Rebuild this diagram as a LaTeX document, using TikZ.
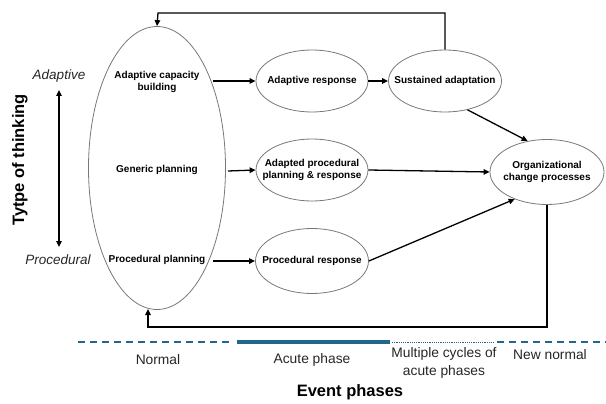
\documentclass[tikz,border=0pt]{standalone}
\usepackage{fontspec}
\setmainfont{Liberation Sans}
\usetikzlibrary{arrows.meta,shapes.geometric}
\definecolor{phase}{RGB}{34,104,140}
\definecolor{rim}{RGB}{120,120,120}
\begin{document}
\begin{tikzpicture}[x=1pt,y=-1pt,
  oval/.style={draw=rim,line width=0.8pt,ellipse,inner sep=0pt},
  lbl/.style={font=\bfseries\fontsize{10}{12}\selectfont,align=center},
  flow/.style={line width=1.3pt,-{Triangle[length=6pt,width=5.5pt]}},
  phaseline/.style={draw=phase,line width=1.6pt},
  phasetxt/.style={font=\fontsize{13.8}{17.5}\selectfont,align=center,text=black!85}]
\useasboundingbox (0,0) rectangle (606,404);

% planning ellipse and its three levels
\node[oval,minimum width=137pt,minimum height=283pt] (plan) at (157,168) {};
\node[lbl] (acb) at (157,82) {Adaptive capacity\\building};
\node[lbl] (gp) at (157,170) {Generic planning};
\node[lbl] (pp) at (157,260) {Procedural planning};

% responses
\node[oval,minimum width=112pt,minimum height=62pt] (ar) at (312,81) {};
\node[lbl] at (ar) {Adaptive response};
\node[oval,minimum width=113pt,minimum height=62pt] (sa) at (445,81) {};
\node[lbl] at (sa) {Sustained adaptation};
\node[oval,minimum width=112pt,minimum height=62pt] (apr) at (312,170) {};
\node[lbl] at (apr) {Adapted procedural\\planning \& response};
\node[oval,minimum width=113pt,minimum height=65pt] (pr) at (312,261) {};
\node[lbl] at (pr) {Procedural response};
\node[oval,minimum width=114pt,minimum height=65pt] (org) at (547,172) {};
\node[lbl] at (org) {Organizational\\change processes};

% forward links
\coordinate (acbE) at (213,81);
\coordinate (gpE) at (228,171);
\coordinate (ppE) at (213,261);
\draw[flow] (acbE) -- (ar.west);
\draw[flow] (gpE) -- (apr.west);
\draw[flow] (ppE) -- (pr.west);
\draw[flow] (ar.east) -- (sa.west);
\draw[flow] (sa.-52) -- (org.122);
\draw[flow] (apr.east) -- (org.west);
\draw[flow] (pr.east) -- (org.-140);

% feedback loops
\draw[flow] (sa.north) -- (445,13) -- (158,13) -- (plan.north);
\coordinate (planB) at (148,309);
\draw[flow] (org.south) -- (547,327) -- (148,327) -- (planB);

% type of thinking axis
\node[font=\itshape\fontsize{13.5}{15}\selectfont,text=black!85] (adap) at (59,76) {Adaptive};
\node[font=\itshape\fontsize{13.5}{15}\selectfont,text=black!85] (proc) at (58,260) {Procedural};
\draw[line width=1.3pt,{Triangle[length=6pt,width=5.5pt]}-{Triangle[length=6pt,width=5.5pt]}] (59,90) -- (59,247);
\node[font=\bfseries\fontsize{16.5}{18}\selectfont,rotate=90] (tt) at (20,160) {Tytpe of thinking};

% event phases timeline
\draw[phaseline,dash pattern=on 7pt off 5pt] (78,342) -- (232,342);
\draw[draw=phase,line width=3.2pt] (237,342) -- (390,342);
\draw[phaseline,line width=1pt,dash pattern=on 1.2pt off 1pt] (392,342) -- (494,342);
\draw[phaseline,dash pattern=on 7pt off 5pt] (497,342) -- (606,342);
\node[phasetxt] (n1) at (158,360) {Normal};
\node[phasetxt] (n2) at (312,360) {Acute phase};
\node[phasetxt] (n3) at (444,363) {Multiple cycles of\\acute phases};
\node[phasetxt] (n4) at (550,355) {New normal};
\node[font=\bfseries\fontsize{16.5}{18}\selectfont] (ep) at (350,392) {Event phases};
\end{tikzpicture}
\end{document}
